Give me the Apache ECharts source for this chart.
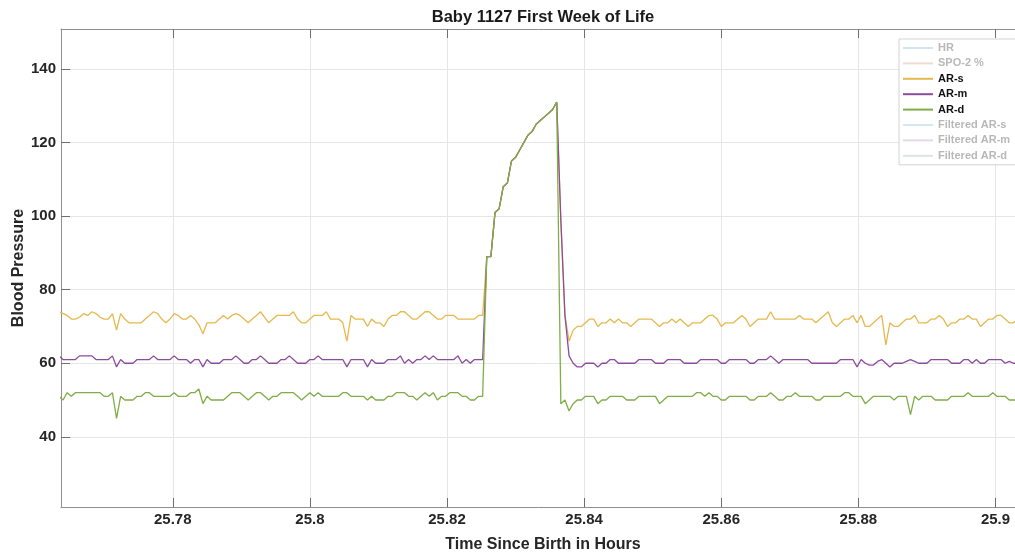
<!DOCTYPE html>
<html>
<head>
<meta charset="utf-8">
<script src="https://cdn.jsdelivr.net/npm/echarts@6/dist/echarts.min.js"></script>
<style>
  html, body { margin: 0; padding: 0; background: #fff; }
  #chart { width: 1015px; height: 554px; }
</style>
</head>
<body>
<div id="chart"></div>
<script>
// Sampling grid of the monitor export (hours since birth)
const t0 = 25.7634;
const dt = 0.0006;

// Arterial pressure readings (mmHg), one per sample
const arS = [
  74, 73.5, 73, 72, 72, 72.5, 73.5, 73, 74, 73.5,
  72.5, 72, 72, 73.5, 69, 73.5, 72, 71, 71, 71,
  71, 72, 73, 74, 73.5, 72, 71, 72, 73.5, 73,
  72, 72, 73, 72, 70.5, 68, 71, 71, 71, 72,
  73, 72, 73, 73.5, 73, 72, 71, 72, 73, 74,
  72.5, 71, 72, 73, 73, 73, 73, 74, 72, 71,
  71, 72, 73, 73, 73, 74, 72, 72, 72, 71,
  66, 73, 72, 72, 72, 70, 72, 71, 71, 70,
  72, 73, 73, 74, 74, 73, 72, 72, 73, 74,
  74, 73, 72, 72, 73, 73, 73, 72, 72, 72,
  72, 72, 73, 73, 89, 89, 101, 102, 108, 109,
  115, 116, 118, 120, 122, 123, 125, 126, 127, 128,
  129, 131, 99, 73, 66, 69, 70, 70, 71, 72,
  72, 70, 71, 71, 72, 71, 72, 71, 71, 70,
  71, 72, 72, 72, 72, 71, 70, 71, 71, 72,
  71, 72, 71, 70, 71, 71, 71, 72, 73, 73,
  72, 70, 71, 71, 71, 72, 73, 72, 70, 71,
  72, 72, 72, 74, 72, 72, 72, 72, 72, 72,
  73, 72, 72, 72, 71, 72, 73, 74, 71, 70,
  71, 72, 72, 73, 71, 73, 70, 70, 71, 72,
  73, 65, 71, 70, 70, 71, 72, 72, 73, 71,
  71, 71, 72, 72, 73, 72, 70, 71, 71, 72,
  72, 73, 72, 72, 70, 71, 72, 72, 73, 73,
  72, 71, 71, 72, 72, 71
];

const arM = [
  62, 61, 61, 61, 61, 62, 62, 62, 62, 61,
  61, 61, 61, 62, 59, 61, 60, 60, 60, 61,
  61, 61, 61, 62, 61, 61, 61, 61, 62, 61,
  61, 61, 60, 61, 61, 59, 61, 60, 60, 60,
  61, 61, 61, 62, 61, 60, 60, 61, 61, 62,
  61, 60, 60, 60, 61, 61, 62, 61, 60, 60,
  60, 61, 61, 62, 61, 61, 61, 61, 61, 61,
  59, 61, 61, 61, 61, 59, 61, 60, 60, 60,
  61, 61, 61, 62, 60, 61, 60, 61, 61, 62,
  61, 62, 61, 61, 61, 61, 61, 62, 60, 61,
  60, 61, 61, 61, 89, 89, 101, 102, 108, 109,
  115, 116, 118, 120, 122, 123, 125, 126, 127, 128,
  129, 131, 99, 73, 62, 60, 59, 59, 60, 60,
  60, 59, 60, 60, 61, 61, 60, 60, 60, 60,
  60, 61, 61, 61, 61, 60, 60, 60, 61, 61,
  61, 61, 60, 60, 60, 60, 61, 61, 61, 61,
  61, 60, 60, 61, 61, 61, 61, 61, 60, 60,
  61, 61, 61, 62, 61, 60, 61, 61, 61, 61,
  61, 61, 61, 60, 60, 60, 60, 60, 60, 60,
  61, 61, 61, 61, 59, 61, 60, 59.5, 59.5, 60.5,
  61, 60, 59, 60, 60, 60, 60.5, 61, 60.5, 60,
  60, 60, 61, 61, 61, 61, 61, 60, 60, 60,
  61, 61, 60, 61, 60, 60, 61, 61, 61, 61,
  60, 60.5, 60, 60, 60, 60
];

const arD = [
  51, 50, 52, 51, 52, 52, 52, 52, 52, 52,
  52, 51, 51, 52, 45, 51, 50, 50, 50, 51,
  51, 52, 52, 51, 51, 51, 51, 51, 52, 51,
  51, 51, 52, 52, 53, 49, 51, 50, 50, 50,
  50, 51, 52, 52, 52, 51, 50, 51, 52, 52,
  51, 50, 51, 51, 52, 52, 52, 52, 51, 50,
  51, 52, 51, 52, 51, 51, 51, 51, 51, 52,
  52, 51, 51, 51, 51, 50, 51, 50, 50, 50,
  51, 51, 52, 52, 52, 51, 51, 50, 51, 52,
  51, 52, 50, 51, 51, 52, 52, 52, 51, 51,
  50, 50, 51, 51, 89, 89, 101, 102, 108, 109,
  115, 116, 118, 120, 122, 123, 125, 126, 127, 128,
  129, 131, 49, 50, 47, 49, 50, 50, 51, 51,
  51, 49, 50, 50, 51, 51, 51, 51, 50, 50,
  50, 51, 51, 51, 51, 51, 49, 50, 51, 51,
  51, 51, 51, 51, 51, 52, 52, 51, 52, 51,
  51, 50, 50, 51, 51, 51, 51, 51, 50, 50,
  51, 51, 51, 52, 51, 50, 50, 51, 51, 52,
  51, 51, 51, 51, 50, 50, 51, 51, 51, 51,
  51, 52, 52, 51, 51, 51, 49, 50, 51, 51,
  51, 51, 51, 50, 51, 51, 51, 46, 51, 50,
  51, 51, 51, 50, 50, 50, 50, 51, 51, 51,
  51, 52, 51, 51, 51, 51, 51, 52, 51, 51,
  51, 50, 50, 50, 50, 50
];

// Axis ticks
const xTicks = [25.78, 25.8, 25.82, 25.84, 25.86, 25.88, 25.9];
const yTicks = [40, 60, 80, 100, 120, 140];

// Legend entries (channels without samples in this window are listed faded)
const legendNames = ['HR', 'SPO-2 %', 'AR-s', 'AR-m', 'AR-d', 'Filtered AR-s', 'Filtered AR-m', 'Filtered AR-d'];
const activeNames = ['AR-s', 'AR-m', 'AR-d'];

const palette = {
  'HR': '#d3e2ef',
  'SPO-2 %': '#efdcd4',
  'AR-s': '#e6b94e',
  'AR-m': '#8b4c9b',
  'AR-d': '#80ad48',
  'Filtered AR-s': '#d6e6f3',
  'Filtered AR-m': '#e6d9e6',
  'Filtered AR-d': '#dde2e6'
};
const seriesValues = { 'AR-s': arS, 'AR-m': arM, 'AR-d': arD };

const toPairs = vals => vals.map((v, i) => [+(t0 + i * dt).toFixed(4), v]);

const FONT = '"Liberation Sans", Arial, Helvetica, sans-serif';
const xMin = 25.7637, xMax = 25.9043;
const yMin = 20.9, yMax = 150.9;

const chart = echarts.init(document.getElementById('chart'), null, { renderer: 'canvas' });

const series = legendNames.map(name => ({
  name: name,
  type: 'line',
  xAxisIndex: 0,
  data: seriesValues[name] ? toPairs(seriesValues[name]) : [],
  symbol: 'none',
  showSymbol: false,
  clip: true,
  color: palette[name],
  lineStyle: { color: palette[name], width: 1.3 },
  emphasis: { disabled: true }
}));

chart.setOption({
  animation: false,
  backgroundColor: '#ffffff',
  title: {
    text: 'Baby 1127 First Week of Life',
    left: 543,
    top: 9,
    textAlign: 'center',
    padding: 0,
    textStyle: { fontFamily: FONT, fontSize: 16.5, fontWeight: 'bold', color: '#1a1a1a' }
  },
  legend: {
    orient: 'vertical',
    left: 899,
    top: 39,
    padding: [3, 8, 3, 3],
    itemWidth: 30,
    itemHeight: 12,
    itemGap: 3.4,
    selectedMode: false,
    backgroundColor: '#ffffff',
    borderColor: '#d2d2d2',
    borderWidth: 1,
    borderRadius: 0,
    itemStyle: { opacity: 0 },
    textStyle: { fontFamily: FONT, fontSize: 11, fontWeight: 'bold', lineHeight: 12, color: '#111' },
    data: legendNames.map(name => ({
      name: name,
      textStyle: { color: activeNames.includes(name) ? '#111111' : '#b8b8b8' }
    }))
  },
  grid: { left: 61, right: -10, top: 29, bottom: 47, containLabel: false, outerBoundsMode: 'none' },
  xAxis: [
    {
      type: 'value',
      min: xMin,
      max: xMax,
      name: 'Time Since Birth in Hours',
      nameLocation: 'middle',
      nameGap: 30,
      nameMoveOverlap: false,
      nameTextStyle: { fontFamily: FONT, fontSize: 16, fontWeight: 'bold', color: '#262626' },
      axisLine: { show: true, onZero: false, lineStyle: { color: '#8f8f8f', width: 1 } },
      axisTick: { show: true, inside: true, length: 9, customValues: xTicks, lineStyle: { color: '#6f6f6f' } },
      axisLabel: {
        show: true,
        customValues: xTicks,
        margin: 5,
        fontFamily: FONT, fontSize: 15, fontWeight: 'bold', color: '#262626',
        formatter: v => String(+v.toFixed(2))
      },
      splitLine: { show: true, lineStyle: { color: '#e6e6e6', width: 1 } }
    },
    {
      type: 'value',
      position: 'top',
      min: xMin,
      max: xMax,
      axisLine: { show: true, onZero: false, lineStyle: { color: '#8f8f8f', width: 1 } },
      axisTick: { show: true, inside: true, length: 9, customValues: xTicks, lineStyle: { color: '#6f6f6f' } },
      axisLabel: { show: false },
      splitLine: { show: false }
    }
  ],
  yAxis: {
    type: 'value',
    min: yMin,
    max: yMax,
    name: 'Blood Pressure',
    nameLocation: 'middle',
    nameGap: 34,
    nameMoveOverlap: false,
    nameTextStyle: { fontFamily: FONT, fontSize: 16, fontWeight: 'bold', color: '#262626' },
    axisLine: { show: true, onZero: false, lineStyle: { color: '#8f8f8f', width: 1 } },
    axisTick: { show: true, inside: true, length: 9, customValues: yTicks, lineStyle: { color: '#6f6f6f' } },
    axisLabel: {
      show: true,
      customValues: yTicks,
      margin: 5,
      fontFamily: FONT, fontSize: 15, fontWeight: 'bold', color: '#262626'
    },
    splitLine: { show: true, lineStyle: { color: '#e6e6e6', width: 1 } }
  },
  series: series
});
</script>
</body>
</html>
